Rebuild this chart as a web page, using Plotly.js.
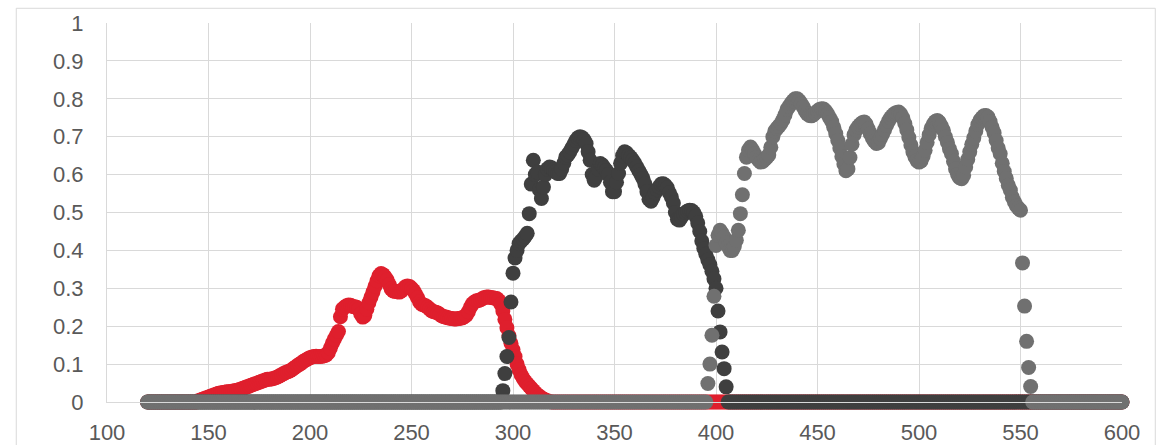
<!DOCTYPE html>
<html>
<head>
<meta charset="utf-8">
<script src="https://cdn.plot.ly/plotly-3.0.1.min.js"></script>
<style>
  html, body { margin: 0; padding: 0; background: #ffffff; }
  #chart { width: 1163px; height: 445px; }
</style>
</head>
<body>
<div id="chart"></div>
<script>
// Wavelength range of all series (nm), 1 nm step
const xFirst = 120;
const xLast = 600;

// Red series: non-zero band starts at 144 nm
const redStart = 144;
const redValues = [
  0.000, 0.003, 0.005, 0.007, 0.009, 0.011, 0.013, 0.015, 0.017, 0.019,
  0.021, 0.023, 0.024, 0.025, 0.026, 0.027, 0.027, 0.028, 0.029, 0.030,
  0.031, 0.032, 0.034, 0.036, 0.038, 0.040, 0.042, 0.044, 0.046, 0.048,
  0.050, 0.052, 0.054, 0.056, 0.058, 0.060, 0.060, 0.061, 0.062, 0.064,
  0.066, 0.069, 0.072, 0.075, 0.078, 0.080, 0.082, 0.085, 0.089, 0.093,
  0.097, 0.100, 0.104, 0.108, 0.111, 0.114, 0.117, 0.119, 0.120, 0.121,
  0.120, 0.120, 0.121, 0.122, 0.124, 0.130, 0.142, 0.155, 0.166, 0.176,
  0.186, 0.225, 0.245, 0.250, 0.254, 0.256, 0.255, 0.252, 0.251, 0.250,
  0.245, 0.232, 0.224, 0.228, 0.245, 0.262, 0.276, 0.290, 0.305, 0.320,
  0.333, 0.339, 0.336, 0.330, 0.322, 0.310, 0.298, 0.293, 0.292, 0.291,
  0.290, 0.293, 0.298, 0.304, 0.306, 0.305, 0.300, 0.294, 0.285, 0.275,
  0.264, 0.258, 0.256, 0.254, 0.250, 0.245, 0.240, 0.238, 0.237, 0.235,
  0.231, 0.227, 0.225, 0.224, 0.222, 0.221, 0.220, 0.219, 0.219, 0.220,
  0.221, 0.222, 0.225, 0.229, 0.238, 0.250, 0.259, 0.264, 0.267, 0.268,
  0.270, 0.273, 0.276, 0.277, 0.277, 0.276, 0.275, 0.274, 0.273, 0.268,
  0.258, 0.240, 0.218, 0.196, 0.175, 0.155, 0.138, 0.120, 0.100, 0.085,
  0.072, 0.062, 0.054, 0.048, 0.042, 0.036, 0.030, 0.024, 0.019, 0.015,
  0.011, 0.008, 0.005, 0.003, 0.001, 0.000
];

// Dark series: non-zero band starts at 294 nm
const darkStart = 294;
const darkValues = [
  0.000, 0.030, 0.075, 0.120, 0.170, 0.264, 0.340, 0.380, 0.400, 0.418,
  0.425, 0.430, 0.437, 0.445, 0.497, 0.575, 0.638, 0.600, 0.607, 0.560,
  0.537, 0.567, 0.600, 0.615, 0.620, 0.618, 0.612, 0.607, 0.603, 0.603,
  0.615, 0.630, 0.646, 0.652, 0.660, 0.670, 0.680, 0.690, 0.697, 0.700,
  0.698, 0.692, 0.682, 0.660, 0.638, 0.600, 0.585, 0.595, 0.615, 0.629,
  0.625, 0.617, 0.611, 0.600, 0.580, 0.555, 0.555, 0.580, 0.603, 0.630,
  0.650, 0.660, 0.657, 0.650, 0.645, 0.638, 0.630, 0.620, 0.610, 0.600,
  0.590, 0.575, 0.555, 0.535, 0.530, 0.540, 0.552, 0.560, 0.568, 0.575,
  0.576, 0.572, 0.565, 0.552, 0.541, 0.525, 0.500, 0.482, 0.480, 0.488,
  0.496, 0.500, 0.504, 0.506, 0.505, 0.500, 0.490, 0.472, 0.450, 0.425,
  0.405, 0.390, 0.375, 0.362, 0.345, 0.325, 0.300, 0.240, 0.185, 0.132,
  0.088, 0.040, 0.000
];

// Grey series: non-zero band starts at 395 nm
const greyStart = 395;
const greyValues = [
  0.000, 0.049, 0.100, 0.176, 0.279, 0.413, 0.440, 0.453, 0.445, 0.435,
  0.420, 0.410, 0.400, 0.400, 0.410, 0.427, 0.453, 0.497, 0.547, 0.603,
  0.646, 0.665, 0.673, 0.665, 0.655, 0.645, 0.638, 0.633, 0.635, 0.640,
  0.645, 0.652, 0.672, 0.700, 0.715, 0.722, 0.728, 0.735, 0.745, 0.758,
  0.772, 0.780, 0.788, 0.795, 0.800, 0.800, 0.795, 0.787, 0.778, 0.768,
  0.760, 0.756, 0.755, 0.758, 0.763, 0.768, 0.772, 0.774, 0.773, 0.768,
  0.760, 0.750, 0.740, 0.725, 0.708, 0.690, 0.670, 0.648, 0.628, 0.610,
  0.615, 0.645, 0.680, 0.705, 0.718, 0.726, 0.732, 0.737, 0.739, 0.733,
  0.720, 0.708, 0.697, 0.688, 0.682, 0.684, 0.695, 0.706, 0.718, 0.730,
  0.741, 0.750, 0.756, 0.761, 0.764, 0.765, 0.760, 0.750, 0.735, 0.718,
  0.698, 0.678, 0.660, 0.647, 0.637, 0.633, 0.636, 0.648, 0.664, 0.685,
  0.705, 0.722, 0.733, 0.740, 0.743, 0.738, 0.728, 0.717, 0.700, 0.685,
  0.668, 0.655, 0.635, 0.615, 0.600, 0.592, 0.589, 0.598, 0.620, 0.640,
  0.660, 0.680, 0.697, 0.715, 0.732, 0.743, 0.750, 0.755, 0.756, 0.752,
  0.740, 0.725, 0.710, 0.690, 0.670, 0.655, 0.630, 0.608, 0.590, 0.572,
  0.559, 0.540, 0.528, 0.518, 0.511, 0.506, 0.367, 0.253, 0.160, 0.091,
  0.041, 0.000
];

const xTickLabels = ['100','150','200','250','300','350','400','450','500','550','600'];
const yTickLabels = ['0','0.1','0.2','0.3','0.4','0.5','0.6','0.7','0.8','0.9','1'];

const seriesColors = { red: '#DF1F2D', dark: '#3F3F3F', grey: '#707070' };

// Build full series on the common wavelength grid (zero outside each band)
const wavelengths = [];
for (let w = xFirst; w <= xLast; w++) wavelengths.push(w);
function fullSeries(start, vals) {
  return wavelengths.map(w => {
    const i = w - start;
    return (i >= 0 && i < vals.length) ? vals[i] : 0;
  });
}

const mk = (vals, start, color) => ({
  type: 'scatter',
  mode: 'markers',
  x: wavelengths,
  y: fullSeries(start, vals),
  cliponaxis: false,
  marker: { size: 15, color: color, line: { width: 0 } },
  hoverinfo: 'x+y',
  showlegend: false
});

const data = [
  mk(redValues, redStart, seriesColors.red),
  mk(darkValues, darkStart, seriesColors.dark),
  mk(greyValues, greyStart, seriesColors.grey)
];

const tickFont = { family: '"Liberation Sans", Arial, sans-serif', size: 22, color: '#595959' };

const layout = {
  width: 1163,
  height: 445,
  margin: { l: 107, r: 41, t: 23, b: 43, pad: 0 },
  paper_bgcolor: '#ffffff',
  plot_bgcolor: '#ffffff',
  showlegend: false,
  xaxis: {
    range: [100, 600],
    tickmode: 'array',
    tickvals: xTickLabels.map(Number),
    ticktext: xTickLabels,
    showgrid: true,
    gridcolor: '#d9d9d9',
    gridwidth: 1,
    zeroline: false,
    showline: true,
    linecolor: '#d9d9d9',
    linewidth: 1,
    ticks: '',
    ticklabelstandoff: 11,
    tickfont: tickFont,
    fixedrange: true
  },
  yaxis: {
    range: [0, 1],
    tickmode: 'array',
    tickvals: yTickLabels.map(Number),
    ticktext: yTickLabels,
    showgrid: true,
    gridcolor: '#d9d9d9',
    gridwidth: 1,
    zeroline: false,
    showline: true,
    linecolor: '#d9d9d9',
    linewidth: 1,
    ticks: '',
    ticklabelstandoff: 18,
    tickfont: tickFont,
    fixedrange: true
  },
  shapes: [{
    type: 'rect',
    xref: 'paper', yref: 'paper',
    x0: -0.0894, x1: 1.0328,
    y0: -0.3, y1: 1.0388,
    line: { color: '#d9d9d9', width: 1 },
    fillcolor: 'rgba(0,0,0,0)',
    layer: 'below'
  }]
};

Plotly.newPlot('chart', data, layout, { staticPlot: true, displayModeBar: false });
</script>
</body>
</html>
